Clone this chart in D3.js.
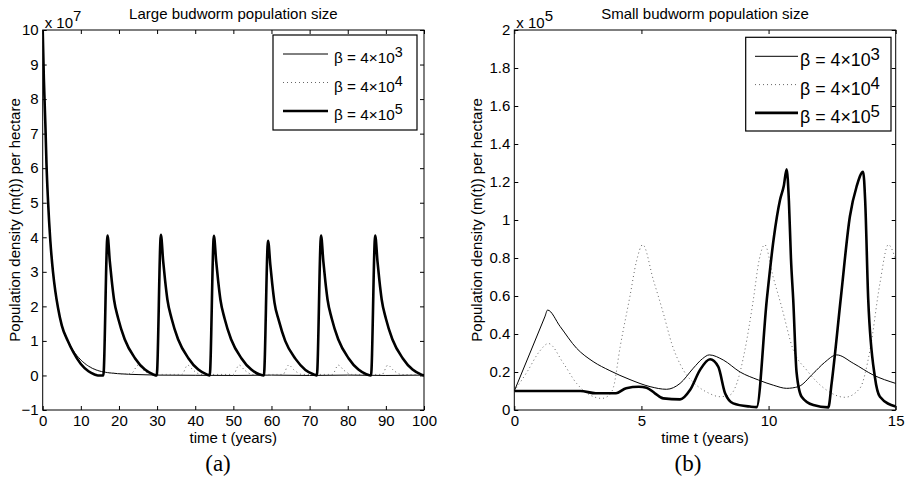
<!DOCTYPE html>
<html>
<head>
<meta charset="utf-8">
<script src="https://cdn.jsdelivr.net/npm/d3@7"></script>
<style>
  body { margin: 0; background: #fff; }
  svg text { font-family: "Liberation Sans", Arial, Helvetica, sans-serif; fill: #000; }
</style>
</head>
<body>
<div class="canvas"></div>
<script>
// ---- data ----
// panel (a): large population, t in years, m(t) in units of 1e7
const largeTicksX = [0, 10, 20, 30, 40, 50, 60, 70, 80, 90, 100];
const largeTicksY = [-1, 0, 1, 2, 3, 4, 5, 6, 7, 8, 9, 10];

const largeBeta3 = [[0,10],[0.3,8.6],[0.7,7.27],[1.0,6.1],[1.4,5.05],[2.0,3.9],[2.7,3.0],[3.3,2.45],[4.0,1.97],[5.0,1.45],
  [6.6,1.0],[8.0,0.72],[10,0.45],[12,0.27],[14,0.16],[16,0.1],[18,0.07],[20,0.05],[25,0.025],[30,0.01],[40,0.005],
  [50,0],[60,0.01],[70,0],[80,0.01],[90,0],[100,0.01]];

const largeBeta4 = [[0,10],[0.3,8.6],[0.7,7.27],[1.0,6.1],[1.4,5.05],[2.0,3.9],[2.7,3.0],[3.3,2.45],[4.0,1.97],[5.0,1.45],
  [6.6,1.0],[8.0,0.72],[10,0.45],[12,0.27],[14,0.16],[16,0.1],[18,0.07],[20,0.05],[22,0.04],[23.5,0.08],[25,0.3],
  [26.5,0.15],[28.5,0.03],[36.5,0.03],[38,0.3],[39.5,0.15],[41.5,0.03],[50,0.03],[51.5,0.3],[53,0.15],[55,0.03],
  [63,0.03],[64.5,0.3],[66,0.15],[68,0.03],[76,0.03],[77.5,0.3],[79,0.15],[81,0.03],[89,0.03],[90.5,0.3],[92,0.15],
  [94,0.03],[100,0.02]];

const largeBeta5 = [[0,10],[0.3,8.6],[0.7,7.27],[1.0,6.1],[1.4,5.05],[2.0,3.9],[2.7,3.0],[3.3,2.45],[4.0,1.97],[5.0,1.45],
  [6.6,1.0],[8.0,0.68],[10,0.33],[12,0.12],[13.6,0.03],[14.5,0],[15.9,0],
  [17.0,4.05],[17.6,3.3],[18.1,2.75],[18.7,2.2],[19.8,1.65],[21.5,1.05],[24.2,0.5],[26.8,0.17],[29.0,0.03],[29.9,0],
  [31.0,4.07],[31.6,3.3],[32.1,2.75],[32.7,2.2],[33.8,1.65],[35.5,1.05],[38.2,0.5],[40.8,0.17],[43.0,0.03],[43.8,0],
  [44.9,4.04],[45.5,3.3],[46.0,2.75],[46.6,2.2],[47.7,1.65],[49.4,1.05],[52.1,0.5],[54.7,0.17],[56.9,0.03],[58.0,0],
  [59.1,3.9],[59.7,3.2],[60.2,2.65],[60.8,2.1],[61.9,1.6],[63.6,1.0],[66.3,0.48],[68.9,0.16],[71.1,0.03],[71.9,0],
  [73.0,4.05],[73.6,3.3],[74.1,2.75],[74.7,2.2],[75.8,1.65],[77.5,1.05],[80.2,0.5],[82.8,0.17],[85.0,0.03],[86.1,0],
  [87.2,4.05],[87.8,3.3],[88.3,2.75],[88.9,2.2],[90.0,1.65],[91.7,1.05],[94.4,0.5],[97.0,0.17],[99.2,0.03],[100,0]];

// panel (b): small population, m(t) in units of 1e5
const smallTicksX = [0, 5, 10, 15];
const smallTicksY = [0, 0.2, 0.4, 0.6, 0.8, 1, 1.2, 1.4, 1.6, 1.8, 2];

const smallBeta3 = [[0,0.1],[1.2,0.49],[1.31,0.526],[1.8,0.44],[2.45,0.325],[3.1,0.255],[3.76,0.207],[4.55,0.16],
  [5.34,0.123],[5.99,0.109],[6.52,0.14],[7.04,0.22],[7.4,0.27],[7.67,0.29],[8.22,0.263],[8.88,0.2],[9.6,0.158],
  [10.2,0.13],[10.71,0.114],[11.17,0.123],[11.76,0.193],[12.2,0.25],[12.68,0.29],[13.33,0.246],[14.12,0.184],[15,0.14]];

const smallBeta4 = [[0,0.1],[0.5,0.2],[1.0,0.31],[1.34,0.35],[1.93,0.246],[2.45,0.14],[2.98,0.079],[3.44,0.061],
  [3.7,0.075],[3.9,0.12],[4.16,0.33],[4.55,0.6],[4.8,0.78],[5.05,0.87],[5.47,0.684],[5.86,0.51],[6.19,0.35],
  [6.65,0.21],[7.17,0.13],[7.63,0.09],[8.09,0.07],[8.48,0.079],[8.75,0.14],[9.07,0.316],[9.4,0.58],[9.63,0.79],
  [9.85,0.87],[10.18,0.7],[10.5,0.55],[10.97,0.316],[11.5,0.21],[12.28,0.105],[13.0,0.067],[13.59,0.114],
  [13.99,0.316],[14.38,0.667],[14.71,0.87],[15,0.79]];

const smallBeta5 = [[0,0.1],[1,0.1],[2,0.1],[2.6,0.1],[3.2,0.088],[4.0,0.088],[4.4,0.115],[4.9,0.122],[5.2,0.117],
  [5.53,0.088],[5.86,0.061],[6.52,0.056],[6.91,0.105],[7.3,0.21],[7.7,0.267],[8.02,0.228],[8.29,0.088],[8.61,0.035],
  [9.27,0.018],[9.53,0.015],[9.93,0.58],[10.2,0.9],[10.45,1.105],[10.6,1.18],[10.71,1.267],[10.8,1.1],[10.88,0.8],
  [10.97,0.58],[11.1,0.2],[11.3,0.07],[11.76,0.026],[12.35,0.014],[12.48,0.14],[12.85,0.6],[13.2,1.02],[13.46,1.175],
  [13.72,1.254],[13.8,1.1],[13.92,0.58],[14.18,0.175],[14.38,0.07],[15,0.018]];

const legendLabels = ['3', '4', '5'];

// ---- layout ----
const svg = d3.select('.canvas')
  .append('svg')
  .attr('width', 906)
  .attr('height', 482);

const styles = [
  { width: 1, dash: null, color: '#000' },
  { width: 1, dash: '1,3', color: '#666' },
  { width: 2.6, dash: null, color: '#000' }
];

const drawPanel = cfg => {
  const w = cfg.right - cfg.left;
  const h = cfg.bottom - cfg.top;

  const x = d3.scaleLinear().domain(cfg.xDomain).range([0, w]);
  const y = d3.scaleLinear().domain(cfg.yDomain).range([h, 0]);

  const g = svg.append('g')
    .attr('transform', `translate(${cfg.left}, ${cfg.top})`);

  const fmt = d3.format('');

  // axes, matlab style: ticks inside on all four sides
  const xAxis = g.append('g')
    .attr('transform', `translate(0, ${h})`)
    .call(d3.axisBottom(x).tickValues(cfg.xTicks).tickSizeInner(-4).tickSizeOuter(0).tickPadding(5).tickFormat(fmt));
  g.append('g')
    .call(d3.axisTop(x).tickValues(cfg.xTicks).tickSizeInner(-4).tickSizeOuter(0).tickFormat(''));
  const yAxis = g.append('g')
    .call(d3.axisLeft(y).tickValues(cfg.yTicks).tickSizeInner(-4).tickSizeOuter(0).tickPadding(4).tickFormat(fmt));
  g.append('g')
    .attr('transform', `translate(${w}, 0)`)
    .call(d3.axisRight(y).tickValues(cfg.yTicks).tickSizeInner(-4).tickSizeOuter(0).tickFormat(''));

  g.selectAll('.domain').remove();
  g.selectAll('.tick line').attr('stroke', '#000');
  [xAxis, yAxis].forEach(a => a.selectAll('text')
    .attr('font-size', 15)
    .style('font-family', '"Liberation Sans", Arial, sans-serif')
    .attr('fill', '#000'));

  // lines
  const line = d3.line()
    .x(d => x(d[0]))
    .y(d => y(d[1]))
    .curve(d3.curveMonotoneX);

  g.append('clipPath').attr('id', cfg.id + '-clip')
    .append('rect').attr('width', w).attr('height', h);

  cfg.series.forEach((s, i) => {
    g.append('path')
      .datum(s)
      .attr('clip-path', `url(#${cfg.id}-clip)`)
      .attr('fill', 'none')
      .attr('stroke', styles[i].color)
      .attr('stroke-width', styles[i].width)
      .attr('stroke-dasharray', styles[i].dash)
      .attr('stroke-linejoin', 'round')
      .attr('d', line);
  });

  // box
  g.append('rect')
    .attr('width', w).attr('height', h)
    .attr('fill', 'none').attr('stroke', '#000').attr('stroke-width', 1);

  // exponent note
  const ex = g.append('text').attr('x', 2).attr('y', -2).attr('font-size', 15);
  ex.append('tspan').text('x 10');
  ex.append('tspan').attr('dy', -7).text(cfg.exponent);

  // title
  g.append('text')
    .attr('x', w / 2).attr('y', -11)
    .attr('text-anchor', 'middle')
    .attr('font-size', 15)
    .text(cfg.title);

  // axis labels
  g.append('text')
    .attr('x', w / 2).attr('y', h + 33)
    .attr('text-anchor', 'middle')
    .attr('font-size', 15)
    .text('time t (years)');

  g.append('text')
    .attr('transform', `translate(${cfg.yLabelX - cfg.left}, ${h / 2}) rotate(-90)`)
    .attr('text-anchor', 'middle')
    .attr('font-size', 15)
    .text('Population density (m(t)) per hectare');

  // sub caption
  svg.append('text')
    .attr('x', cfg.capX).attr('y', 471)
    .attr('text-anchor', 'middle')
    .attr('font-size', 23)
    .style('font-family', '"Liberation Serif", "DejaVu Serif", serif')
    .text(cfg.caption);

  // legend
  const lg = cfg.legend;
  svg.append('rect')
    .attr('x', lg.x).attr('y', lg.y)
    .attr('width', lg.w).attr('height', lg.h)
    .attr('fill', '#fff').attr('stroke', '#000').attr('stroke-width', 1.2);

  legendLabels.forEach((p, i) => {
    const ly = lg.y + lg.row0 + i * lg.step;
    svg.append('line')
      .attr('x1', lg.lineX1).attr('x2', lg.lineX2)
      .attr('y1', ly).attr('y2', ly)
      .attr('stroke', styles[i].color)
      .attr('stroke-width', styles[i].width)
      .attr('stroke-dasharray', styles[i].dash);
    const t = svg.append('text')
      .attr('x', lg.textX).attr('y', ly + lg.base)
      .attr('font-size', lg.font);
    t.append('tspan').text('\u03b2 = 4\u00d710');
    t.append('tspan').attr('dy', -6).attr('font-size', lg.font - 1).text(p);
  });
};

drawPanel({
  id: 'a', left: 42.7, right: 424, top: 30, bottom: 410,
  xDomain: [0, 100], yDomain: [-1, 10],
  xTicks: largeTicksX, yTicks: largeTicksY,
  series: [largeBeta3, largeBeta4, largeBeta5],
  exponent: '7', title: 'Large budworm population size',
  yLabelX: 20, caption: '(a)', capX: 218,
  legend: { x: 273, y: 35, w: 144, h: 95, row0: 19, step: 28.5, base: 9,
    lineX1: 283, lineX2: 328, textX: 334, font: 15.3 }
});

drawPanel({
  id: 'b', left: 514.3, right: 895.7, top: 30, bottom: 410,
  xDomain: [0, 15], yDomain: [0, 2],
  xTicks: smallTicksX, yTicks: smallTicksY,
  series: [smallBeta3, smallBeta4, smallBeta5],
  exponent: '5', title: 'Small budworm population size',
  yLabelX: 482, caption: '(b)', capX: 688,
  legend: { x: 745.7, y: 37.3, w: 145.3, h: 93.7, row0: 19, step: 28.3, base: 10,
    lineX1: 755, lineX2: 798, textX: 800, font: 17.8 }
});
</script>
</body>
</html>
